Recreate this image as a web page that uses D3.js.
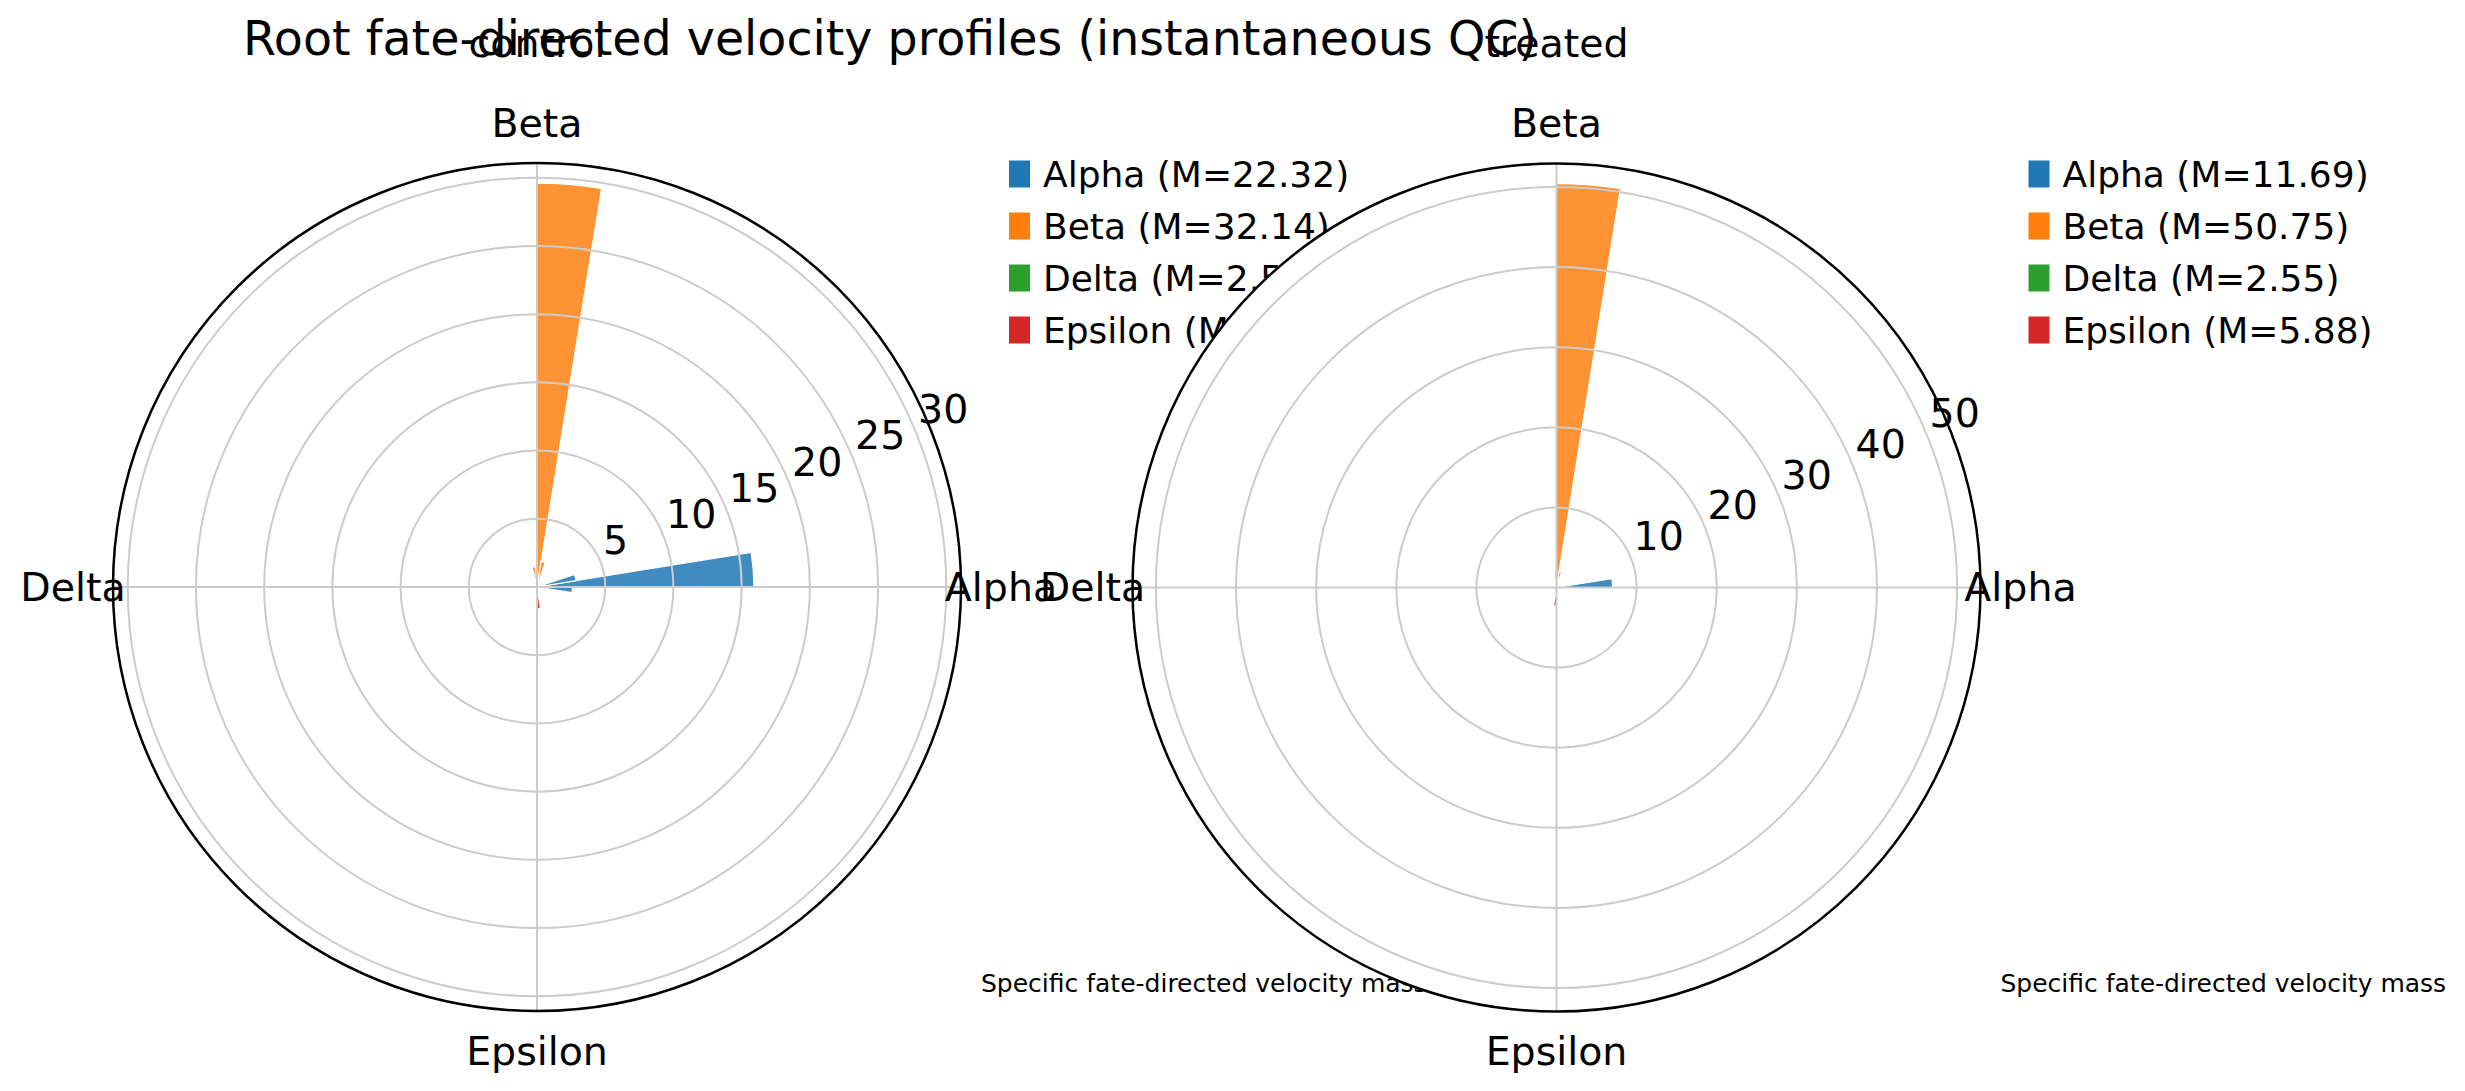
<!DOCTYPE html>
<html>
<head>
<meta charset="utf-8">
<script src="https://cdn.jsdelivr.net/npm/d3@7"></script>
<style>
    body { margin: 0; background: #fff; }
    #chart { width: 2465px; height: 1091px; }
    text { font-family: "DejaVu Sans", sans-serif; fill: #000; }
</style>
</head>
<body>
<div id="chart"></div>
<script>
const figTitle = "Root fate-directed velocity profiles (instantaneous QC)";
const fates = ["Alpha", "Beta", "Delta", "Epsilon"];
const fateAngles = [0, 90, 180, 270];
const fateColors = ["#1f77b4", "#ff7f0e", "#2ca02c", "#d62728"];
const panelTitles = ["control", "treated"];
const controlMeans = [22.32, 32.14, 2.53, 3.47];
const treatedMeans = [11.69, 50.75, 2.55, 5.88];
// single bars: [fate index, angle offset from fate direction (deg), magnitude]
const controlBars = [
    [0, 4.6, 15.9], [0, 13.8, 2.9], [0, -4.6, 2.6],
    [1, -4.6, 29.6], [1, 9.0, 1.5], [1, -13.8, 1.9],
    [2, 4.6, 0.4],
    [3, 4.6, 1.6],
];
const treatedBars = [
    [0, 4.5, 7.0], [0, -4.6, 0.5],
    [1, -4.5, 50.4], [1, 4.6, 1.8], [1, -13.8, 2.0],
    [2, -4.6, 0.4],
    [3, -4.6, 2.3],
];
const controlTicks = [5, 10, 15, 20, 25, 30];
const treatedTicks = [10, 20, 30, 40, 50];
const massLabel = "Specific fate-directed velocity mass";

const svg = d3.select("#chart").append("svg")
    .attr("width", 2465)
    .attr("height", 1091);

const R = 424;
const barWidth = 9.2;
const labelSize = 39.5;

function drawPanel(cx, cy, title, bars, means, ticks) {
    const g = svg.append("g").attr("transform", `translate(${cx},${cy})`);

    const rScale = d3.scaleLinear()
        .domain([0, d3.max(bars, (d) => d[2]) * 1.05])
        .range([0, R]);

    // white axes background (covers what lies beneath)
    g.append("circle").attr("r", R).attr("fill", "#fff");

    const arc = d3.arc().innerRadius(0);
    g.selectAll("path.bar")
        .data(bars)
        .join("path")
        .attr("class", "bar")
        .attr("d", (d) => {
            const th = fateAngles[d[0]] + d[1];
            return arc({
                outerRadius: rScale(d[2]),
                startAngle: ((90 - th - barWidth / 2) * Math.PI) / 180,
                endAngle: ((90 - th + barWidth / 2) * Math.PI) / 180,
            });
        })
        .attr("fill", (d) => fateColors[d[0]])
        .attr("fill-opacity", 0.85)
        .attr("stroke", "#fff")
        .attr("stroke-width", 1.2);

    // grid on top of the bars, like matplotlib polar axes
    g.selectAll("circle.ring")
        .data(ticks)
        .join("circle")
        .attr("class", "ring")
        .attr("r", (d) => rScale(d))
        .attr("fill", "none")
        .attr("stroke", "#cccccc")
        .attr("stroke-width", 2);

    g.selectAll("line.spoke")
        .data(fateAngles)
        .join("line")
        .attr("class", "spoke")
        .attr("x1", 0).attr("y1", 0)
        .attr("x2", (d) => R * Math.cos((d * Math.PI) / 180))
        .attr("y2", (d) => -R * Math.sin((d * Math.PI) / 180))
        .attr("stroke", "#cccccc")
        .attr("stroke-width", 2);

    g.append("circle")
        .attr("r", R)
        .attr("fill", "none")
        .attr("stroke", "#000")
        .attr("stroke-width", 2.5);

    const tickAng = (22.5 * Math.PI) / 180;
    g.selectAll("text.rtick")
        .data(ticks)
        .join("text")
        .attr("class", "rtick")
        .attr("x", (d) => rScale(d) * Math.cos(tickAng) + 3)
        .attr("y", (d) => -rScale(d) * Math.sin(tickAng) - 7)
        .attr("font-size", labelSize)
        .text((d) => d);

    g.selectAll("text.fate")
        .data(fates)
        .join("text")
        .attr("class", "fate")
        .attr("x", (d, i) => (R + 40) * Math.cos((fateAngles[i] * Math.PI) / 180))
        .attr("y", (d, i) => -(R + 40) * Math.sin((fateAngles[i] * Math.PI) / 180))
        .attr("dy", "0.35em")
        .attr("text-anchor", "middle")
        .attr("font-size", labelSize)
        .text((d) => d);

    // legend
    const leg = g.append("g").attr("transform", `translate(${R + 48},${174 - cy})`);
    const rows = leg.selectAll("g")
        .data(fates)
        .join("g")
        .attr("transform", (d, i) => `translate(0,${i * 52})`);
    rows.append("rect")
        .attr("x", 0).attr("y", -13.5)
        .attr("width", 21).attr("height", 27)
        .attr("fill", (d, i) => fateColors[i]);
    rows.append("text")
        .attr("x", 34)
        .attr("dy", "0.35em")
        .attr("font-size", 36)
        .text((d, i) => `${d} (M=${means[i].toFixed(2)})`);

    g.append("text")
        .attr("x", R + 20)
        .attr("y", 992 - cy)
        .attr("font-size", 25)
        .text(massLabel);

    svg.append("text")
        .attr("x", cx)
        .attr("y", 57)
        .attr("text-anchor", "middle")
        .attr("font-size", labelSize)
        .text(title);
}

drawPanel(537, 587, panelTitles[0], controlBars, controlMeans, controlTicks);
drawPanel(1556.5, 587.5, panelTitles[1], treatedBars, treatedMeans, treatedTicks);

svg.append("text")
    .attr("x", 890)
    .attr("y", 55)
    .attr("text-anchor", "middle")
    .attr("font-size", 47.5)
    .text(figTitle);
</script>
</body>
</html>
